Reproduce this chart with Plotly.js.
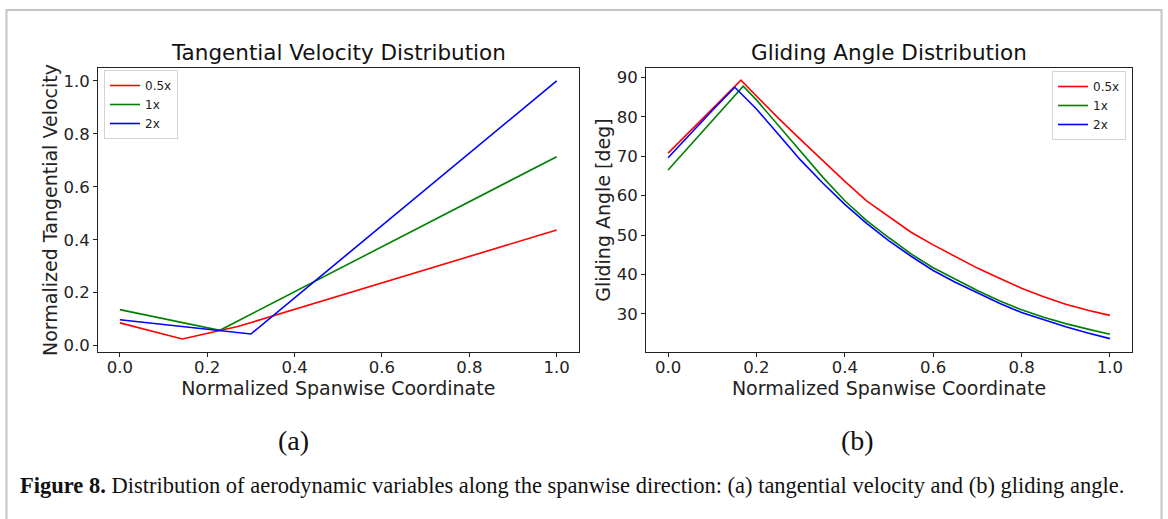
<!DOCTYPE html>
<html>
<head>
<meta charset="utf-8">
<script src="https://cdn.plot.ly/plotly-3.0.1.min.js"></script>
<style>
  html, body { margin: 0; padding: 0; background: #ffffff; }
  #chart { width: 1168px; height: 519px; }
</style>
</head>
<body>
<div id="chart"></div>
<script>
// ---------------- DATA ----------------
const seriesNames = ["0.5x", "1x", "2x"];

// (a) Tangential velocity distribution
const tvRedX   = [0.0, 0.143, 0.27, 1.0];
const tvRedY   = [0.086, 0.025, 0.072, 0.437];
const tvGreenX = [0.0, 0.229, 1.0];
const tvGreenY = [0.136, 0.058, 0.714];
const tvBlueX  = [0.0, 0.300, 1.0];
const tvBlueY  = [0.098, 0.044, 1.0];

// (b) Gliding angle distribution
const gaRedX   = [0.0, 0.05, 0.10, 0.165, 0.20, 0.25, 0.30, 0.35, 0.40, 0.45, 0.50, 0.55, 0.60, 0.65, 0.70, 0.75, 0.80, 0.85, 0.90, 0.95, 1.0];
const gaRedY   = [70.8, 76.4, 82.0, 89.3, 85.3, 79.6, 74.2, 68.8, 63.6, 58.6, 54.6, 50.7, 47.5, 44.5, 41.6, 39.0, 36.5, 34.3, 32.4, 30.9, 29.6];
const gaGreenX = [0.0, 0.05, 0.10, 0.17, 0.20, 0.25, 0.30, 0.35, 0.40, 0.45, 0.50, 0.55, 0.60, 0.65, 0.70, 0.75, 0.80, 0.85, 0.90, 0.95, 1.0];
const gaGreenY = [66.5, 72.8, 79.0, 87.8, 84.3, 77.8, 71.2, 64.7, 58.7, 53.6, 49.3, 45.2, 41.7, 38.7, 35.9, 33.3, 31.0, 29.1, 27.5, 26.1, 24.8];
const gaBlueX  = [0.0, 0.05, 0.10, 0.151, 0.20, 0.25, 0.30, 0.35, 0.40, 0.45, 0.50, 0.55, 0.60, 0.65, 0.70, 0.75, 0.80, 0.85, 0.90, 0.95, 1.0];
const gaBlueY  = [69.6, 75.7, 81.6, 87.5, 82.0, 75.5, 69.0, 63.2, 57.8, 52.9, 48.5, 44.6, 41.0, 38.0, 35.3, 32.7, 30.3, 28.4, 26.7, 25.1, 23.7];

// ticks
const xTickVals  = [0.0, 0.2, 0.4, 0.6, 0.8, 1.0];
const xTickText  = ["0.0", "0.2", "0.4", "0.6", "0.8", "1.0"];
const tvTickVals = [0.0, 0.2, 0.4, 0.6, 0.8, 1.0];
const tvTickText = ["0.0", "0.2", "0.4", "0.6", "0.8", "1.0"];
const gaTickVals = [30, 40, 50, 60, 70, 80, 90];
const gaTickText = ["30", "40", "50", "60", "70", "80", "90"];

// texts
const titleA = "Tangential Velocity Distribution";
const titleB = "Gliding Angle Distribution";
const xTitle = "Normalized Spanwise Coordinate";
const yTitleA = "Normalized Tangential Velocity";
const yTitleB = "Gliding Angle [deg]";
const caption = "<b>Figure 8.</b> Distribution of aerodynamic variables along the spanwise direction: (a) tangential velocity and (b) gliding angle.";

// ---------------- STYLE / LAYOUT ----------------
const colors = ["#ff0000", "#008000", "#0000ff"];
const W = 1168, H = 519;
const M = { l: 98, r: 36, t: 68, b: 167 };
const PW = W - M.l - M.r, PH = H - M.t - M.b;
const px = v => (v - M.l) / PW;
const py = v => 1 - (v - M.t) / PH;

const sans = "DejaVu Sans, sans-serif";
const serif = "Liberation Serif, DejaVu Serif, serif";

function line(x, y, i, xa, ya, leg) {
  return { x: x, y: y, type: "scatter", mode: "lines", name: seriesNames[i],
           xaxis: xa, yaxis: ya, legend: leg,
           line: { color: colors[i], width: 1.6 }, hoverinfo: "x+y" };
}

const data = [
  line(tvRedX, tvRedY, 0, "x", "y", "legend"),
  line(tvGreenX, tvGreenY, 1, "x", "y", "legend"),
  line(tvBlueX, tvBlueY, 2, "x", "y", "legend"),
  line(gaRedX, gaRedY, 0, "x2", "y2", "legend2"),
  line(gaGreenX, gaGreenY, 1, "x2", "y2", "legend2"),
  line(gaBlueX, gaBlueY, 2, "x2", "y2", "legend2")
];

const tickFont = { family: sans, size: 16.5, color: "#222" };
const axTitleFont = { family: sans, size: 19, color: "#222" };

function axis(extra) {
  return Object.assign({
    showgrid: false, zeroline: false, showline: true, mirror: true,
    linecolor: "#222", linewidth: 1, ticks: "outside", ticklen: 4, tickwidth: 1,
    tickcolor: "#222", tickfont: tickFont,
    tickmode: "array", automargin: false
  }, extra);
}

const legendStyle = {
  bgcolor: "#ffffff", bordercolor: "#d4d4d4", borderwidth: 1,
  font: { family: sans, size: 12, color: "#222" },
  xref: "paper", yref: "paper", tracegroupgap: 0
};

const layout = {
  width: W, height: H, autosize: false,
  margin: M,
  paper_bgcolor: "#ffffff", plot_bgcolor: "#ffffff",
  showlegend: true,
  xaxis: axis({ domain: [0, px(578.5)], range: [-0.05, 1.05], anchor: "y",
    tickvals: xTickVals, ticktext: xTickText, ticklabelstandoff: -4,
    title: { text: xTitle, font: axTitleFont, standoff: 0 } }),
  yaxis: axis({ domain: [0, 1], range: [-0.024, 1.049], anchor: "x",
    tickvals: tvTickVals, ticktext: tvTickText,
    title: { text: yTitleA, font: axTitleFont, standoff: 0 } }),
  xaxis2: axis({ domain: [px(646), 1], range: [-0.05, 1.05], anchor: "y2",
    tickvals: xTickVals, ticktext: xTickText, ticklabelstandoff: -4,
    title: { text: xTitle, font: axTitleFont, standoff: 0 } }),
  yaxis2: axis({ domain: [0, 1], range: [20.3, 92.4], anchor: "x2",
    tickvals: gaTickVals, ticktext: gaTickText,
    title: { text: yTitleB, font: axTitleFont, standoff: 1 } }),
  legend: Object.assign({}, legendStyle, { x: px(104), y: py(70), xanchor: "left", yanchor: "top" }),
  legend2: Object.assign({}, legendStyle, { x: px(1126), y: py(71), xanchor: "right", yanchor: "top" }),
  annotations: [
    { text: titleA, xref: "paper", yref: "paper", x: px(338.4), y: py(53), xanchor: "center", yanchor: "middle",
      showarrow: false, font: { family: sans, size: 21.5, color: "#111" } },
    { text: titleB, xref: "paper", yref: "paper", x: px(889), y: py(53), xanchor: "center", yanchor: "middle",
      showarrow: false, font: { family: sans, size: 21.5, color: "#111" } },
    { text: "(a)", xref: "paper", yref: "paper", x: px(293), y: py(440), xanchor: "center", yanchor: "middle",
      showarrow: false, font: { family: serif, size: 28, color: "#111" } },
    { text: "(b)", xref: "paper", yref: "paper", x: px(857), y: py(440), xanchor: "center", yanchor: "middle",
      showarrow: false, font: { family: serif, size: 28, color: "#111" } },
    { text: caption, xref: "paper", yref: "paper", x: px(18), y: py(485), xanchor: "left", yanchor: "middle",
      showarrow: false, font: { family: serif, size: 22.5, color: "#111" } }
  ],
  shapes: [
    { type: "rect", xref: "paper", yref: "paper", x0: px(6.5), x1: px(1161.5), y0: py(10), y1: py(530),
      line: { color: "#c4c4c4", width: 2 }, fillcolor: "rgba(0,0,0,0)", layer: "below" }
  ]
};

Plotly.newPlot("chart", data, layout, { staticPlot: true, displayModeBar: false });
</script>
</body>
</html>
